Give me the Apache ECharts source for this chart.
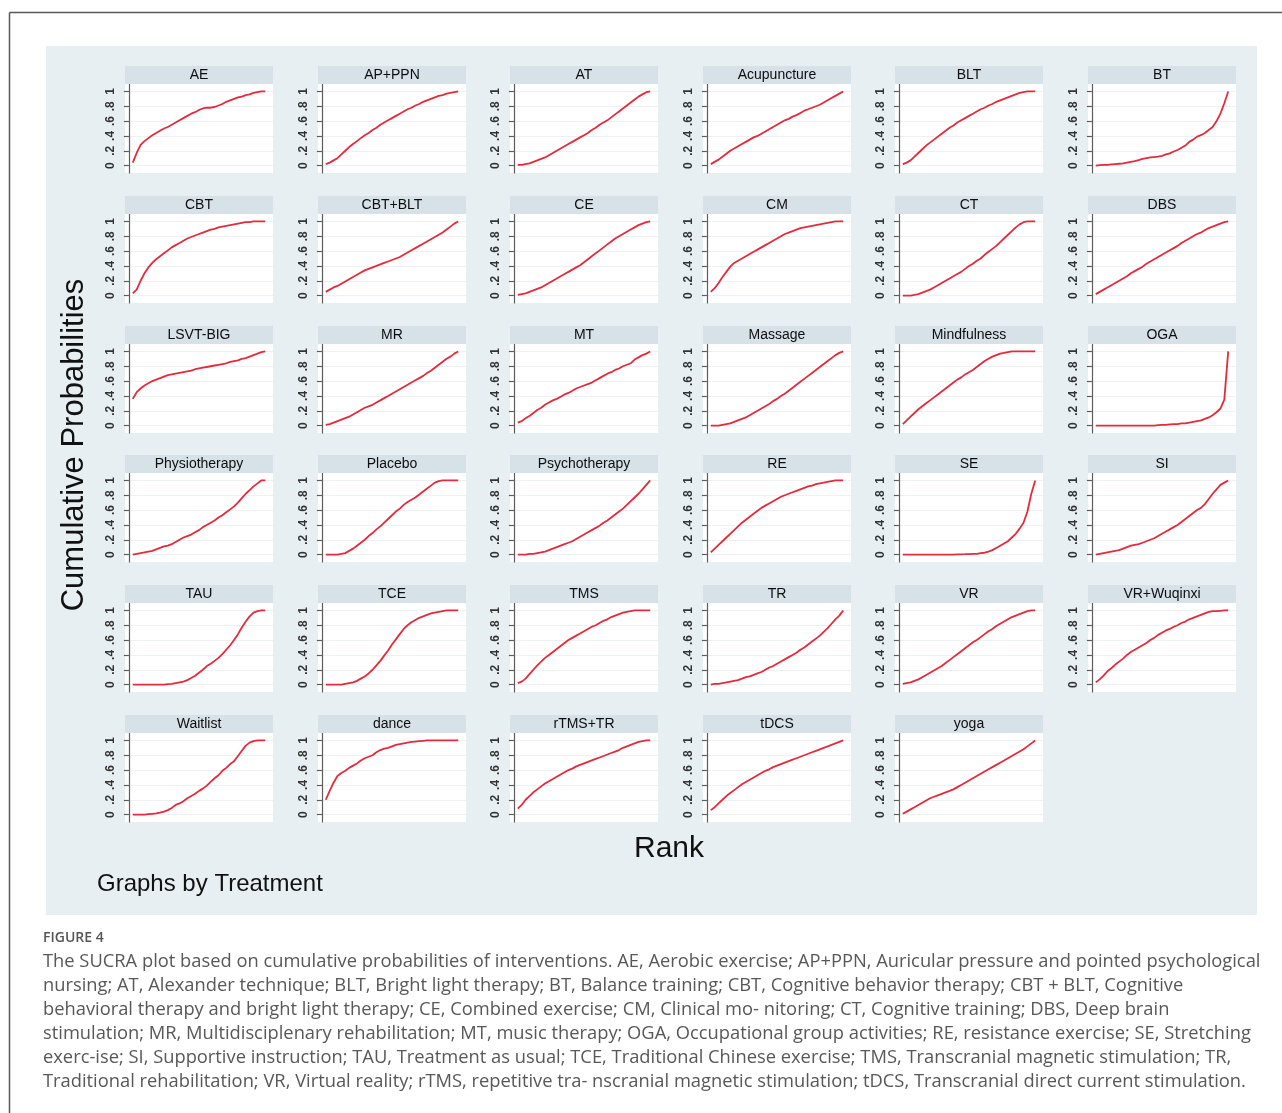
<!DOCTYPE html>
<html>
<head>
<meta charset="utf-8">
<title>SUCRA cumulative probabilities</title>
<script src="https://cdn.jsdelivr.net/npm/echarts@6/dist/echarts.min.js"></script>
<style>
  html, body { margin: 0; padding: 0; background: #ffffff; }
  #chart { width: 1282px; height: 1113px; }
</style>
</head>
<body>
<div id="chart"></div>
<script>
// Rank positions (x axis of every panel)
const ranks = [1,2,3,4,5,6,7,8,9,10,11,12,13,14,15,16,17,18,19,20,21,22,23,24,25,26,27,28,29,30,31,32,33,34,35];

// Cumulative probability of each treatment at ranks 1..35
const AE = [0.04,0.17,0.28,0.33,0.37,0.41,0.44, 0.47,0.50,0.52,0.55,0.58,0.61,0.64, 0.67,0.70,0.72,0.75,0.77,0.78,0.78, 0.79,0.81,0.83,0.86,0.88,0.90,0.92, 0.93,0.95,0.96,0.98,0.99,1.00,1.00];
const AP_PPN = [0.02,0.04,0.07,0.10,0.15,0.20,0.25, 0.29,0.33,0.37,0.41,0.44,0.48,0.51, 0.55,0.58,0.61,0.64,0.67,0.70,0.73, 0.76,0.78,0.81,0.83,0.86,0.88,0.90, 0.92,0.94,0.95,0.97,0.98,0.99,1.00];
const AT = [0.01,0.01,0.02,0.03,0.05,0.07,0.09, 0.11,0.14,0.17,0.20,0.23,0.26,0.29, 0.32,0.35,0.38,0.41,0.44,0.48,0.51, 0.55,0.58,0.61,0.65,0.69,0.73,0.77, 0.81,0.85,0.89,0.93,0.96,0.99,1.00];
const Acupuncture = [0.02,0.05,0.08,0.12,0.16,0.20,0.23, 0.26,0.29,0.32,0.35,0.38,0.40,0.43, 0.46,0.49,0.52,0.55,0.58,0.61,0.63, 0.66,0.68,0.71,0.74,0.76,0.78,0.80, 0.82,0.85,0.88,0.91,0.94,0.97,1.00];
const BLT = [0.02,0.04,0.07,0.12,0.17,0.22,0.27, 0.31,0.35,0.39,0.43,0.47,0.51,0.54, 0.58,0.61,0.64,0.67,0.70,0.73,0.76, 0.78,0.81,0.83,0.86,0.88,0.90,0.92, 0.94,0.96,0.98,0.99,1.00,1.00,1.00];
const BT = [0.00,0.005,0.01,0.01,0.015,0.02,0.025, 0.03,0.04,0.05,0.06,0.075,0.09,0.10, 0.11,0.115,0.12,0.13,0.15,0.165,0.19, 0.21,0.24,0.27,0.32,0.35,0.39,0.41, 0.44,0.48,0.52,0.60,0.70,0.84,1.00];
const CBT = [0.03,0.08,0.20,0.30,0.38,0.44,0.49, 0.53,0.57,0.61,0.65,0.68,0.71,0.74, 0.77,0.79,0.81,0.83,0.85,0.87,0.89, 0.90,0.92,0.93,0.94,0.95,0.96,0.97, 0.98,0.99,0.99,1.00,1.00,1.00,1.00];
const CBT_BLT = [0.05,0.08,0.11,0.13,0.16,0.19,0.22, 0.25,0.28,0.31,0.34,0.36,0.38,0.40, 0.42,0.44,0.46,0.48,0.50,0.52,0.55, 0.58,0.61,0.64,0.67,0.70,0.73,0.76, 0.79,0.82,0.85,0.89,0.93,0.97,1.00];
const CE = [0.01,0.02,0.03,0.05,0.07,0.09,0.11, 0.14,0.17,0.20,0.23,0.26,0.29,0.32, 0.35,0.38,0.41,0.45,0.49,0.53,0.57, 0.61,0.65,0.69,0.73,0.77,0.80,0.83, 0.86,0.89,0.92,0.95,0.97,0.99,1.00];
const CM = [0.05,0.10,0.17,0.25,0.32,0.39,0.44, 0.47,0.50,0.53,0.56,0.59,0.62,0.65, 0.68,0.71,0.74,0.77,0.80,0.83,0.85, 0.87,0.89,0.91,0.92,0.93,0.94,0.95, 0.96,0.97,0.98,0.99,1.00,1.00,1.00];
const CT = [0.00,0.00,0.00,0.01,0.02,0.04,0.06, 0.08,0.11,0.14,0.17,0.20,0.23,0.26, 0.29,0.32,0.36,0.40,0.43,0.47,0.50, 0.55,0.59,0.63,0.67,0.72,0.77,0.82, 0.87,0.92,0.96,0.99,1.00,1.00,1.00];
const DBS = [0.02,0.05,0.08,0.11,0.14,0.17,0.20, 0.23,0.26,0.30,0.33,0.36,0.39,0.43, 0.46,0.49,0.52,0.55,0.58,0.61,0.64, 0.67,0.71,0.74,0.77,0.80,0.83,0.85, 0.88,0.91,0.93,0.95,0.97,0.99,1.00];
const LSVT_BIG = [0.36,0.45,0.50,0.54,0.57,0.60,0.62, 0.64,0.66,0.68,0.69,0.70,0.71,0.72, 0.73,0.74,0.76,0.77,0.78,0.79,0.80, 0.81,0.82,0.83,0.84,0.86,0.87,0.88, 0.90,0.91,0.93,0.95,0.97,0.99,1.00];
const MR = [0.01,0.02,0.04,0.06,0.08,0.10,0.12, 0.15,0.18,0.21,0.24,0.26,0.28,0.31, 0.34,0.37,0.40,0.43,0.46,0.49,0.52, 0.55,0.58,0.61,0.64,0.67,0.71,0.74, 0.78,0.82,0.86,0.90,0.93,0.97,1.00];
const MT = [0.04,0.06,0.10,0.13,0.17,0.21,0.24, 0.28,0.31,0.34,0.36,0.39,0.42,0.44, 0.47,0.50,0.52,0.54,0.56,0.58,0.61, 0.64,0.67,0.70,0.72,0.75,0.77,0.80, 0.82,0.84,0.89,0.92,0.95,0.97,1.00];
const Massage = [0.00,0.00,0.00,0.01,0.02,0.03,0.05, 0.07,0.09,0.11,0.14,0.17,0.20,0.23, 0.26,0.29,0.33,0.36,0.40,0.43,0.47, 0.51,0.55,0.59,0.63,0.67,0.71,0.75, 0.79,0.83,0.87,0.91,0.95,0.98,1.00];
const Mindfulness = [0.02,0.07,0.12,0.17,0.22,0.26,0.30, 0.34,0.38,0.42,0.46,0.50,0.54,0.58, 0.62,0.65,0.69,0.72,0.75,0.79,0.83, 0.87,0.90,0.93,0.95,0.97,0.98,0.99, 1.00,1.00,1.00,1.00,1.00,1.00,1.00];
const OGA = [0,0,0,0,0,0,0, 0,0,0,0,0,0,0, 0,0,0.005,0.01,0.01,0.015,0.02, 0.02,0.03,0.03,0.04,0.05,0.06,0.07, 0.09,0.11,0.14,0.18,0.23,0.35,1.00];
const Physiotherapy = [0.00,0.01,0.02,0.03,0.04,0.05,0.07, 0.09,0.11,0.12,0.14,0.17,0.20,0.23, 0.25,0.27,0.30,0.33,0.37,0.40,0.43, 0.46,0.50,0.53,0.57,0.61,0.65,0.70, 0.76,0.82,0.87,0.92,0.96,1.00,1.00];
const Placebo = [0.00,0.00,0.00,0.00,0.01,0.02,0.05, 0.08,0.12,0.16,0.20,0.25,0.29,0.34, 0.38,0.43,0.48,0.53,0.58,0.62,0.67, 0.71,0.74,0.77,0.81,0.85,0.89,0.93, 0.97,0.99,1.00,1.00,1.00,1.00,1.00];
const Psychotherapy = [0.00,0.00,0.00,0.01,0.01,0.02,0.03, 0.04,0.06,0.08,0.10,0.12,0.14,0.16, 0.18,0.21,0.24,0.27,0.30,0.33,0.36, 0.39,0.43,0.46,0.50,0.54,0.58,0.62, 0.67,0.72,0.77,0.82,0.88,0.94,1.00];
const RE = [0.03,0.08,0.13,0.18,0.23,0.28,0.33, 0.38,0.43,0.47,0.51,0.55,0.59,0.63, 0.66,0.69,0.72,0.75,0.78,0.80,0.82, 0.84,0.86,0.88,0.90,0.92,0.93,0.95, 0.96,0.97,0.98,0.99,1.00,1.00,1.00];
const SE = [0,0,0,0,0,0,0, 0,0,0,0,0,0,0, 0.002,0.004,0.005,0.007,0.01,0.01,0.02, 0.025,0.04,0.06,0.09,0.12,0.15,0.18, 0.23,0.28,0.35,0.43,0.58,0.82,1.00];
const SI = [0.00,0.01,0.02,0.03,0.04,0.05,0.06, 0.08,0.10,0.12,0.13,0.14,0.16,0.18, 0.20,0.22,0.25,0.28,0.31,0.34,0.37, 0.40,0.44,0.48,0.52,0.56,0.60,0.63, 0.68,0.75,0.82,0.88,0.94,0.97,1.00];
const TAU = [0,0,0,0,0,0,0, 0,0,0.005,0.01,0.02,0.03,0.04, 0.06,0.09,0.12,0.16,0.20,0.25,0.28, 0.32,0.36,0.41,0.47,0.53,0.60,0.68, 0.77,0.85,0.92,0.97,0.99,1.00,1.00];
const TCE = [0,0,0,0,0,0.01,0.02, 0.03,0.05,0.08,0.11,0.15,0.20,0.26, 0.32,0.39,0.46,0.54,0.61,0.68,0.75, 0.80,0.84,0.87,0.90,0.92,0.94,0.96, 0.97,0.98,0.99,1.00,1.00,1.00,1.00];
const TMS = [0.02,0.04,0.08,0.14,0.20,0.26,0.31, 0.36,0.40,0.44,0.48,0.52,0.56,0.60, 0.63,0.66,0.69,0.72,0.75,0.78,0.80, 0.83,0.86,0.88,0.91,0.93,0.95,0.97, 0.98,0.99,1.00,1.00,1.00,1.00,1.00];
const TR = [0.00,0.01,0.01,0.02,0.03,0.04,0.05, 0.06,0.08,0.10,0.11,0.13,0.15,0.17, 0.20,0.23,0.25,0.28,0.31,0.34,0.37, 0.40,0.43,0.47,0.50,0.54,0.58,0.62, 0.66,0.71,0.76,0.82,0.88,0.93,1.00];
const VR = [0.01,0.02,0.03,0.05,0.07,0.10,0.13, 0.16,0.19,0.22,0.25,0.29,0.33,0.37, 0.41,0.45,0.49,0.53,0.57,0.60,0.64, 0.68,0.72,0.75,0.79,0.82,0.85,0.88, 0.91,0.93,0.95,0.97,0.99,1.00,1.00];
const VR_Wuqinxi = [0.03,0.07,0.12,0.18,0.22,0.27,0.31, 0.35,0.40,0.44,0.47,0.50,0.53,0.56, 0.60,0.63,0.67,0.70,0.73,0.75,0.78, 0.80,0.83,0.85,0.88,0.90,0.92,0.94, 0.96,0.98,0.99,0.99,0.995,1.00,1.00];
const Waitlist = [0,0,0,0,0.005,0.01,0.015, 0.025,0.04,0.06,0.09,0.13,0.15,0.18, 0.22,0.25,0.28,0.32,0.35,0.39,0.44, 0.49,0.53,0.59,0.63,0.68,0.72,0.79, 0.86,0.93,0.97,0.99,1.00,1.00,1.00];
const dance = [0.20,0.32,0.43,0.52,0.56,0.59,0.63, 0.66,0.69,0.73,0.76,0.78,0.80,0.84, 0.87,0.89,0.90,0.92,0.94,0.95,0.96, 0.97,0.98,0.985,0.99,0.995,1.00,1.00, 1.00,1.00,1.00,1.00,1.00,1.00,1.00];
const rTMS_TR = [0.08,0.13,0.20,0.25,0.30,0.34,0.38, 0.42,0.45,0.48,0.51,0.54,0.57,0.60, 0.62,0.65,0.67,0.69,0.71,0.73,0.75, 0.77,0.79,0.81,0.83,0.85,0.87,0.90, 0.92,0.94,0.96,0.98,0.99,1.00,1.00];
const tDCS = [0.06,0.10,0.15,0.20,0.25,0.29,0.33, 0.37,0.41,0.44,0.47,0.50,0.53,0.56, 0.59,0.61,0.64,0.66,0.68,0.70,0.72, 0.74,0.76,0.78,0.80,0.82,0.84,0.86, 0.88,0.90,0.92,0.94,0.96,0.98,1.00];
const yoga = [0.01,0.04,0.07,0.10,0.13,0.16,0.19, 0.22,0.24,0.26,0.28,0.30,0.32,0.34, 0.37,0.40,0.43,0.46,0.49,0.52,0.55, 0.58,0.61,0.64,0.67,0.70,0.73,0.76, 0.79,0.82,0.85,0.88,0.92,0.96,1.00];

// Panel order (by treatment)
const panels = [
  ['AE', AE], ['AP+PPN', AP_PPN], ['AT', AT], ['Acupuncture', Acupuncture], ['BLT', BLT], ['BT', BT],
  ['CBT', CBT], ['CBT+BLT', CBT_BLT], ['CE', CE], ['CM', CM], ['CT', CT], ['DBS', DBS],
  ['LSVT-BIG', LSVT_BIG], ['MR', MR], ['MT', MT], ['Massage', Massage], ['Mindfulness', Mindfulness], ['OGA', OGA],
  ['Physiotherapy', Physiotherapy], ['Placebo', Placebo], ['Psychotherapy', Psychotherapy], ['RE', RE], ['SE', SE], ['SI', SI],
  ['TAU', TAU], ['TCE', TCE], ['TMS', TMS], ['TR', TR], ['VR', VR], ['VR+Wuqinxi', VR_Wuqinxi],
  ['Waitlist', Waitlist], ['dance', dance], ['rTMS+TR', rTMS_TR], ['tDCS', tDCS], ['yoga', yoga]
];

const yTickValues = [0, 0.2, 0.4, 0.6, 0.8, 1];

const captionHead = 'FIGURE 4';
const captionLines = [
  'The SUCRA plot based on cumulative probabilities of interventions. AE, Aerobic exercise; AP+PPN, Auricular pressure and pointed psychological',
  'nursing; AT, Alexander technique; BLT, Bright light therapy; BT, Balance training; CBT, Cognitive behavior therapy; CBT + BLT, Cognitive',
  'behavioral therapy and bright light therapy; CE, Combined exercise; CM, Clinical mo- nitoring; CT, Cognitive training; DBS, Deep brain',
  'stimulation; MR, Multidisciplenary rehabilitation; MT, music therapy; OGA, Occupational group activities; RE, resistance exercise; SE, Stretching',
  'exerc-ise; SI, Supportive instruction; TAU, Treatment as usual; TCE, Traditional Chinese exercise; TMS, Transcranial magnetic stimulation; TR,',
  'Traditional rehabilitation; VR, Virtual reality; rTMS, repetitive tra- nscranial magnetic stimulation; tDCS, Transcranial direct current stimulation.'
];

// ---- layout ----
const COL0 = 125, COL_STEP = 192.6;
const ROW0 = 66, ROW_STEP = 129.8;
const STRIP_H = 18, PLOT_W = 148, PLOT_H = 89;
const SANS = '"Liberation Sans", Arial, sans-serif';
const CAPTION_FONT = '"Open Sans", "Noto Sans", sans-serif';

const option = {
  animation: false,
  backgroundColor: '#ffffff',
  grid: [], xAxis: [], yAxis: [], series: [], graphic: []
};

const g = option.graphic;

// figure panel background and page frame
g.push({ type: 'rect', z: -10, shape: { x: 46, y: 46, width: 1211, height: 869 }, style: { fill: '#e8eff2' } });
g.push({ type: 'line', z: -10, shape: { x1: 9.5, y1: 12.5, x2: 1282, y2: 12.5 }, style: { stroke: '#5a5a5a', lineWidth: 1.5 } });
g.push({ type: 'line', z: -10, shape: { x1: 9.5, y1: 12.5, x2: 9.5, y2: 1113 }, style: { stroke: '#5a5a5a', lineWidth: 1.5 } });

panels.forEach(([name, vals], i) => {
  const c = i % 6, r = Math.floor(i / 6);
  const left = Math.round(COL0 + c * COL_STEP);
  const stripTop = Math.round(ROW0 + r * ROW_STEP);
  const top = stripTop + STRIP_H;

  option.grid.push({
    left: left, top: top, width: PLOT_W, height: PLOT_H,
    show: true, backgroundColor: '#ffffff', borderWidth: 0, containLabel: false
  });
  option.xAxis.push({ gridIndex: i, type: 'value', min: -1, max: 37, show: false });
  option.yAxis.push({
    gridIndex: i, type: 'value', min: -0.1, max: 1.1,
    axisLine: { show: true, lineStyle: { color: '#5c5c5c', width: 1.2 } },
    axisTick: { show: true, length: 5, customValues: yTickValues, lineStyle: { color: '#5c5c5c', width: 1.2 } },
    axisLabel: {
      customValues: yTickValues, rotate: 90, margin: 8,
      fontFamily: SANS, fontSize: 12, fontWeight: 'bold', color: '#333333',
      formatter: v => (v === 0 ? '0' : v === 1 ? '1' : String(v).replace(/^0/, ''))
    },
    splitLine: { show: true, lineStyle: { color: '#edf1f4', width: 1 } }
  });
  option.series.push({
    type: 'line', xAxisIndex: i, yAxisIndex: i, silent: true,
    showSymbol: false, symbol: 'none',
    lineStyle: { color: '#e52a3c', width: 1.8 },
    data: ranks.map((rk, k) => [rk, vals[k]])
  });

  // title strip
  g.push({ type: 'rect', z: 1, shape: { x: left, y: stripTop, width: PLOT_W, height: STRIP_H }, style: { fill: '#d7e1e8' } });
  g.push({
    type: 'text', z: 2, x: left + PLOT_W / 2, y: stripTop + STRIP_H / 2 + 0.5,
    style: { text: name, font: '14px ' + SANS, fill: '#0d0d0d', align: 'center', verticalAlign: 'middle', textAlign: 'center', textVerticalAlign: 'middle' }
  });
});

// axis titles and note
g.push({
  type: 'text', z: 2, x: 74, y: 445, rotation: Math.PI / 2,
  style: { text: 'Cumulative Probabilities', font: '31px ' + SANS, fill: '#111111', align: 'center', verticalAlign: 'middle', textAlign: 'center', textVerticalAlign: 'middle' }
});
g.push({
  type: 'text', z: 2, x: 669, y: 849,
  style: { text: 'Rank', font: '30px ' + SANS, fill: '#111111', align: 'center', verticalAlign: 'middle', textAlign: 'center', textVerticalAlign: 'middle' }
});
g.push({
  type: 'text', z: 2, x: 97, y: 884,
  style: { text: 'Graphs by Treatment', font: '24px ' + SANS, fill: '#111111', align: 'left', verticalAlign: 'middle', textAlign: 'left', textVerticalAlign: 'middle' }
});

// caption below the figure; size chosen so the first line spans the text column
const measureCtx = document.createElement('canvas').getContext('2d');
measureCtx.font = '100px ' + CAPTION_FONT;
const firstW = measureCtx.measureText(captionLines[0]).width;
const capSize = Math.max(12, Math.min(20, 100 * 1218 / firstW));

g.push({
  type: 'text', z: 2, x: 43, y: 938,
  style: { text: captionHead, font: '600 14px ' + CAPTION_FONT, fill: '#555555', align: 'left', verticalAlign: 'middle', textAlign: 'left', textVerticalAlign: 'middle' }
});
captionLines.forEach((line, k) => {
  g.push({
    type: 'text', z: 2, x: 43, y: 962 + k * 24,
    style: { text: line, font: capSize.toFixed(2) + 'px ' + CAPTION_FONT, fill: '#585858', align: 'left', verticalAlign: 'middle', textAlign: 'left', textVerticalAlign: 'middle' }
  });
});

const chart = echarts.init(document.getElementById('chart'), null, { renderer: 'canvas' });
chart.setOption(option);
</script>
</body>
</html>
